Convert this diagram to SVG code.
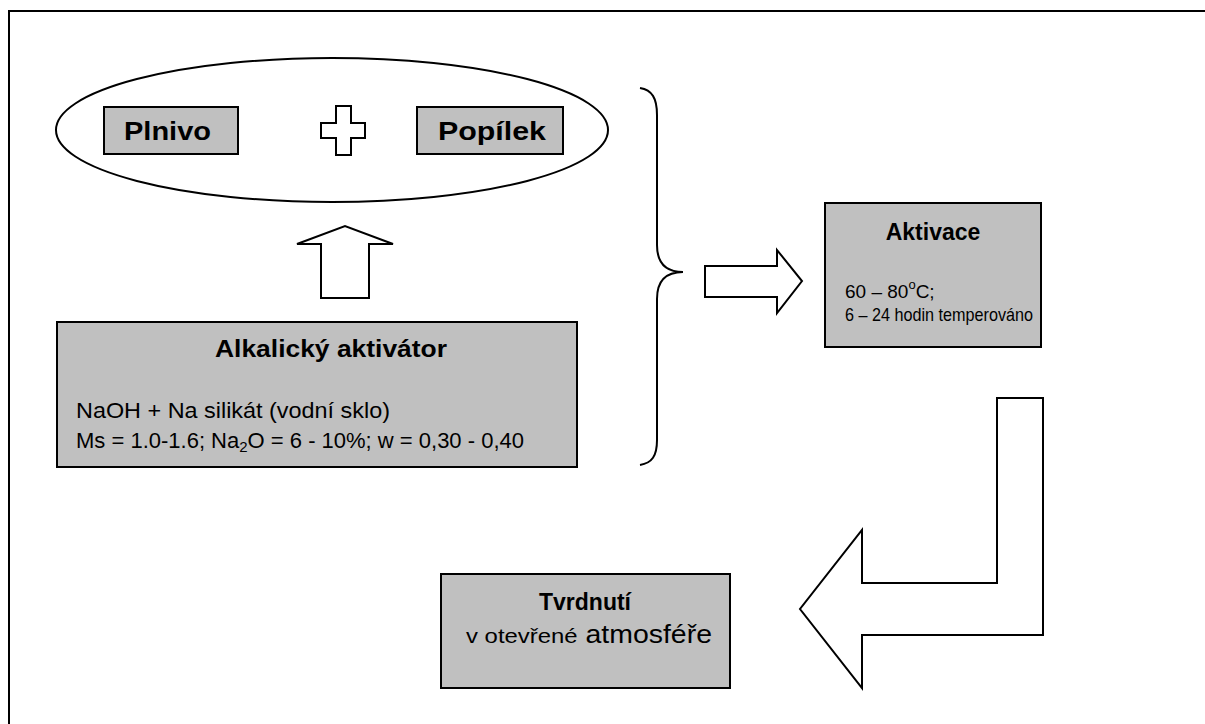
<svg xmlns="http://www.w3.org/2000/svg" width="1205" height="724" viewBox="0 0 1205 724">
<style>
.box{fill:#c0c0c0;stroke:#000;stroke-width:2}
.ln{fill:#fff;stroke:#000;stroke-width:2;stroke-linejoin:miter}
.open{fill:none;stroke:#000;stroke-width:2}
.t{font-family:"Liberation Sans",Arial,sans-serif;fill:#000}
.b{font-weight:bold}
</style>
<rect width="1205" height="724" fill="#fff"/>
<path class="open" d="M9,724 V11 H1205"/>
<g id="mix">
<ellipse class="open" cx="332" cy="130" rx="276" ry="72"/>
</g>
<g id="plnivo">
<rect class="box" x="104" y="107" width="134" height="47"/>
<text class="t b" x="124" y="140" font-size="25" textLength="87" lengthAdjust="spacingAndGlyphs">Plnivo</text>
</g>
<g id="plus">
<path class="ln" d="M336,106 H351 V123 H365 V138 H351 V155 H336 V138 H321 V123 H336 Z"/>
</g>
<g id="popilek">
<rect class="box" x="417" y="107" width="146" height="47"/>
<text class="t b" x="438" y="140" font-size="25" textLength="108" lengthAdjust="spacingAndGlyphs">Popílek</text>
</g>
<g id="aktivator">
<rect class="box" x="57" y="322" width="520" height="145"/>
<text class="t b" x="215" y="357" font-size="24" textLength="232" lengthAdjust="spacingAndGlyphs">Alkalický aktivátor</text>
<text class="t" x="76" y="418" font-size="22" textLength="314" lengthAdjust="spacingAndGlyphs">NaOH + Na silikát (vodní sklo)</text>
<text class="t" x="76" y="448" font-size="22">Ms = 1.0-1.6; Na<tspan font-size="15" dy="4">2</tspan><tspan dy="-4">O = 6 - 10%; w = 0,30 - 0,40</tspan></text>
</g>
<g id="aktivace">
<rect class="box" x="825" y="203" width="216" height="144"/>
<text class="t b" x="933" y="240" font-size="23" text-anchor="middle">Aktivace</text>
<text class="t" x="845" y="298" font-size="19">60 – 80<tspan font-size="13" dy="-9">o</tspan><tspan dy="9">C;</tspan></text>
<text class="t" x="845" y="321" font-size="19" textLength="188" lengthAdjust="spacingAndGlyphs">6 – 24 hodin temperováno</text>
</g>
<g id="tvrdnuti">
<rect class="box" x="441" y="574" width="289" height="114"/>
<text class="t b" x="585" y="610" font-size="23" text-anchor="middle">Tvrdnutí</text>
<text class="t" x="466" y="643" font-size="25" textLength="246" lengthAdjust="spacingAndGlyphs"><tspan font-size="21">v otevřené</tspan> atmosféře</text>
</g>
<g id="connectors">
<path class="ln" d="M321,298 V244 H297 L345,226 L393,244 H369 V298 Z"/>
<path class="open" d="M640,88 C652,90 657,98 657,115 V245 C657,262 665,272 683,272 C665,272 657,282 657,299 V440 C657,456 652,463 640,465"/>
<path class="ln" d="M705,266 H777 V250 L802,281 L777,313 V297 H705 Z"/>
<path class="ln" d="M997,398 H1043 V635 H862 V688 L800,609 L862,530 V583 H997 Z"/>
</g>
</svg>
